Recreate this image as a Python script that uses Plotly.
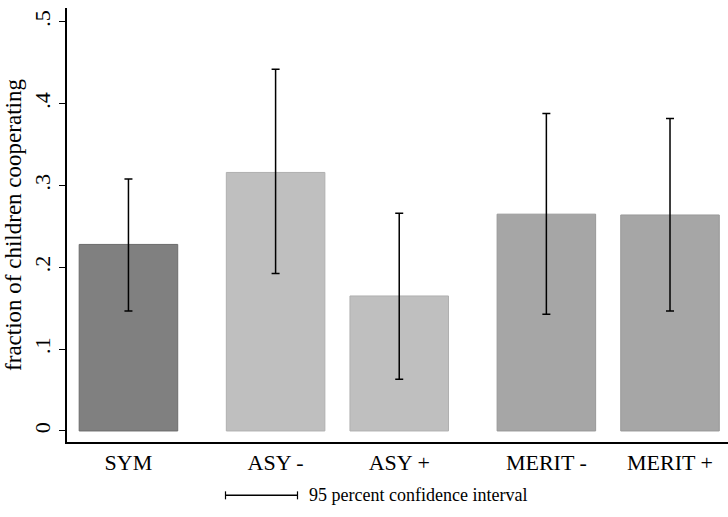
import plotly.graph_objects as go

categories = ["SYM", "ASY -", "ASY +", "MERIT -", "MERIT +"]
fractions = [0.228, 0.316, 0.165, 0.265, 0.264]
ci_upper = [0.308, 0.442, 0.266, 0.388, 0.382]
ci_lower = [0.1465, 0.1926, 0.0633, 0.1428, 0.1465]
groups = [0, 1, 1, 2, 2]
group_fill = ["#808080", "#bfbfbf", "#a6a6a6"]
group_edge = ["#6c6c6c", "#b0b0b0", "#999999"]
y_tickvals = [0, 0.1, 0.2, 0.3, 0.4, 0.5]
y_ticktext = ["0", ".1", ".2", ".3", ".4", ".5"]

group_gap = 0.19
xpos = [i + groups[i] * group_gap for i in range(len(categories))]

err_plus = [u - v for u, v in zip(ci_upper, fractions)]
err_minus = [v - l for v, l in zip(fractions, ci_lower)]

FONT = "Liberation Serif"

fig = go.Figure()
fig.add_trace(go.Bar(
    x=xpos, y=fractions, width=0.797,
    marker=dict(color=[group_fill[g] for g in groups],
                line=dict(color=[group_edge[g] for g in groups], width=1)),
    error_y=dict(type="data", symmetric=False, array=err_plus, arrayminus=err_minus,
                 color="black", thickness=1.5, width=4),
    showlegend=False, hoverinfo="skip",
))

fig.update_layout(
    width=728, height=517,
    margin=dict(l=67, r=0, t=8, b=75),
    plot_bgcolor="white", paper_bgcolor="white",
    font=dict(family=FONT, size=18, color="black"),
    xaxis=dict(range=[-0.497, 4.849], tickvals=xpos, ticktext=categories,
               showline=True, linecolor="black", linewidth=1.5, ticks="",
               showgrid=False, zeroline=False, tickfont=dict(size=22),
               fixedrange=True),
    yaxis=dict(range=[-0.0135, 0.517], tickvals=y_tickvals, ticktext=y_ticktext,
               tickangle=-90, showline=True, linecolor="black", linewidth=1.5,
               ticks="outside", ticklen=6, tickwidth=1.2, tickcolor="black",
               showgrid=False, zeroline=False, tickfont=dict(size=22),
               title=dict(text="fraction of children cooperating", font=dict(size=23), standoff=2)),
    shapes=[
        dict(type="line", xref="paper", yref="paper", x0=(225-67)/661, x1=(298-67)/661,
             y0=-(495-441.7)/433.7, y1=-(495-441.7)/433.7, line=dict(color="black", width=1.5)),
        dict(type="line", xref="paper", yref="paper", x0=(225.5-67)/661, x1=(225.5-67)/661,
             y0=-(491-441.7)/433.7, y1=-(499-441.7)/433.7, line=dict(color="black", width=1.2)),
        dict(type="line", xref="paper", yref="paper", x0=(297.5-67)/661, x1=(297.5-67)/661,
             y0=-(491-441.7)/433.7, y1=-(499-441.7)/433.7, line=dict(color="black", width=1.2)),
    ],
    annotations=[
        dict(text="95 percent confidence interval", xref="paper", yref="paper",
             x=(307-67)/661, y=-(495-441.7)/433.7, xanchor="left", yanchor="middle",
             showarrow=False, font=dict(size=18)),
    ],
)

fig.write_html("out.html")
